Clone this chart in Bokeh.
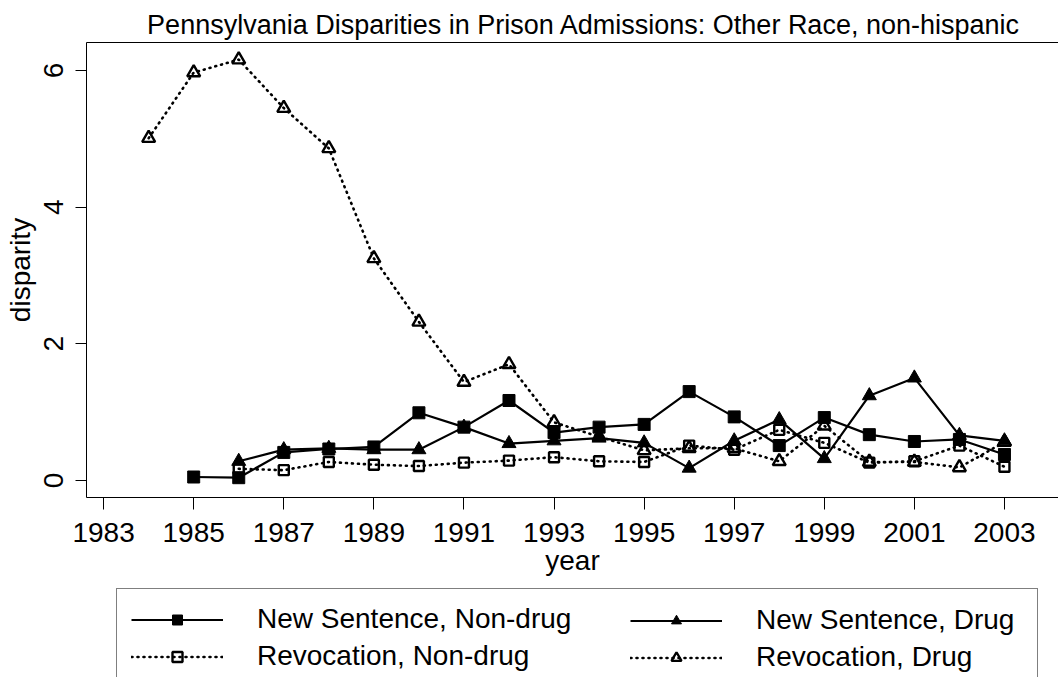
from bokeh.plotting import figure
from bokeh.layouts import column
from bokeh.models import Legend, LegendItem, FixedTicker, LinearAxis, Range1d, ColumnDataSource
from bokeh.embed import file_html
from bokeh.resources import INLINE

# ---- data ----
ns_nondrug_years = list(range(1985, 2004))
ns_nondrug = [0.05, 0.04, 0.41, 0.46, 0.49, 0.99, 0.78, 1.17, 0.70, 0.78,
              0.82, 1.30, 0.93, 0.51, 0.92, 0.67, 0.57, 0.60, 0.38]

ns_drug_years = list(range(1986, 2004))
ns_drug = [0.28, 0.45, 0.47, 0.45, 0.45, 0.78, 0.54, 0.58, 0.62, 0.55,
           0.18, 0.58, 0.89, 0.32, 1.24, 1.50, 0.66, 0.58]

rev_nondrug_years = list(range(1986, 2004))
rev_nondrug = [0.17, 0.15, 0.27, 0.23, 0.21, 0.26, 0.29, 0.34, 0.28, 0.27,
               0.51, 0.45, 0.74, 0.55, 0.26, 0.28, 0.51, 0.20]

rev_drug_years = list(range(1984, 2004))
rev_drug = [5.01, 5.97, 6.16, 5.45, 4.86, 3.25, 2.32, 1.44, 1.70, 0.85,
            0.64, 0.44, 0.47, 0.47, 0.28, 0.80, 0.27, 0.27, 0.19, 0.56]

x_ticks = list(range(1983, 2004, 2))
y_ticks = [0, 2, 4, 6]

labels = ["New Sentence, Non-drug", "New Sentence, Drug",
          "Revocation, Non-drug", "Revocation, Drug"]
title_text = "Pennsylvania Disparities in Prison Admissions: Other Race, non-hispanic"

FONT = "Liberation Sans"

styles = [
    dict(line=dict(line_color="black", line_width=2.2),
         mark=dict(marker="square", size=12, fill_color="black", line_color="black")),
    dict(line=dict(line_color="black", line_width=2.2),
         mark=dict(marker="triangle", size=14, fill_color="black", line_color="black")),
    dict(line=dict(line_color="black", line_width=2.6, line_dash="1 5", line_cap="round"),
         mark=dict(marker="square", size=10, fill_color=None, line_color="black", line_width=2.4)),
    dict(line=dict(line_color="black", line_width=2.6, line_dash="1 5", line_cap="round"),
         mark=dict(marker="triangle", size=13, fill_color=None, line_color="black", line_width=2.4)),
]

sources = [ColumnDataSource(dict(x=xs, y=ys)) for xs, ys in [
    (ns_nondrug_years, ns_nondrug), (ns_drug_years, ns_drug),
    (rev_nondrug_years, rev_nondrug), (rev_drug_years, rev_drug)]]

# ---------------- main plot ----------------
p = figure(width=1058, height=587, output_backend="svg", toolbar_location=None,
           x_range=Range1d(1982.62, 2004.2), y_range=Range1d(-0.25, 6.41),
           min_border_left=86, min_border_right=0, min_border_top=42,
           min_border_bottom=90)

xax = p.below[0]
yax = p.left[0]

p.title.text = title_text
p.title.text_font = FONT
p.title.text_font_size = "27px"
p.title.text_font_style = "normal"
p.title.text_color = "black"
p.title.align = "right"
p.title.offset = 38
p.title.standoff = 6

p.background_fill_color = "white"
p.border_fill_color = "white"
p.outline_line_color = None
p.xgrid.grid_line_color = None
p.ygrid.grid_line_color = None

for ax in (xax, yax):
    ax.axis_line_color = "black"
    ax.axis_line_width = 1
    ax.major_tick_line_color = "black"
    ax.major_tick_line_width = 1
    ax.major_tick_in = 0
    ax.minor_tick_line_color = None
    ax.major_label_text_font = FONT
    ax.major_label_text_font_size = "28px"
    ax.major_label_text_color = "black"
    ax.axis_label_text_font = FONT
    ax.axis_label_text_font_size = "28px"
    ax.axis_label_text_font_style = "normal"
    ax.axis_label_text_color = "black"

xax.ticker = FixedTicker(ticks=x_ticks)
xax.major_tick_out = 12
xax.major_label_standoff = 13
xax.axis_label = "year"
xax.axis_label_standoff = 0

yax.ticker = FixedTicker(ticks=y_ticks)
yax.major_tick_out = 11
yax.major_label_orientation = "vertical"
yax.major_label_standoff = 12
yax.axis_label = "disparity"
yax.axis_label_standoff = 6

# top frame line (no ticks, no labels)
top_axis = LinearAxis(ticker=FixedTicker(ticks=[]), major_label_text_font_size="0px",
                      major_tick_out=0, major_tick_in=0, minor_tick_out=0,
                      minor_tick_in=0, major_label_standoff=0,
                      minor_tick_line_color=None, major_tick_line_color=None,
                      axis_line_color="black", axis_line_width=1)
p.add_layout(top_axis, "above")

for src, st in zip(sources, styles):
    p.line("x", "y", source=src, **st["line"])
    p.scatter("x", "y", source=src, **st["mark"])

# ---------------- legend strip below ----------------
q = figure(width=1058, height=90, output_backend="svg", toolbar_location=None,
           x_range=Range1d(0, 1), y_range=Range1d(0, 1),
           x_axis_type=None, y_axis_type=None,
           min_border_left=86, min_border_right=0, min_border_top=0,
           min_border_bottom=0)
q.background_fill_color = "white"
q.border_fill_color = "white"
q.outline_line_color = None
q.xgrid.grid_line_color = None
q.ygrid.grid_line_color = None

# legend keys: same sources, but this strip's ranges keep the marks out of view
keys = []
for src, st in zip(sources, styles):
    rl = q.line("x", "y", source=src, **st["line"])
    rm = q.scatter("x", "y", source=src, **st["mark"])
    keys.append([rl, rm])

common = dict(label_text_font=FONT, label_text_font_size="28px",
              label_text_color="black", padding=14, spacing=5,
              glyph_width=92, glyph_height=25, label_standoff=34,
              label_height=32, margin=0)

leg1 = Legend(items=[LegendItem(label=labels[0], renderers=keys[0], index=0),
                     LegendItem(label=labels[2], renderers=keys[2], index=0)],
              location=(30, -10), border_line_color="black", border_line_width=1,
              background_fill_color="white", label_width=766, **common)
leg2 = Legend(items=[LegendItem(label=labels[1], renderers=keys[1], index=0),
                     LegendItem(label=labels[3], renderers=keys[3], index=0)],
              location=(530, -10), border_line_alpha=0, background_fill_alpha=0,
              label_width=20, **common)
q.add_layout(leg1)
q.add_layout(leg2)

layout = column(p, q, spacing=0)
open("out.html", "w").write(file_html(layout, INLINE))
